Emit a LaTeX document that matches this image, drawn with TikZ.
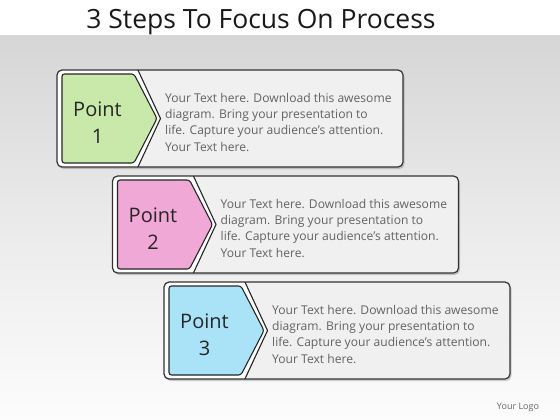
\documentclass[tikz,border=0pt]{standalone}
\usepackage{fontspec}
\setmainfont{Open Sans}
\usetikzlibrary{shadows}
\definecolor{bgtop}{HTML}{D6D6D6}
\definecolor{bgmid}{HTML}{EBEBEB}
\definecolor{bgbot}{HTML}{FCFCFC}
\definecolor{ptgreen}{HTML}{C8E9AA}
\definecolor{ptpink}{HTML}{F0A8D6}
\definecolor{ptblue}{HTML}{AAE3F8}
\definecolor{txtgray}{HTML}{626262}
\definecolor{boxfill}{HTML}{F0F0F0}
\definecolor{boxline}{HTML}{333333}
\tikzset{
  boxframe/.style={draw=boxline, line width=1.2pt, rounded corners=5pt},
  boxshadow/.style={fill=black, opacity=0.18, rounded corners=5pt},
  pentagonshape/.style={draw=black!85, line width=1.1pt, rounded corners=2.5pt},
  dividerline/.style={draw=black!85, line width=1.1pt},
  ptlabel/.style={font=\fontsize{20}{27}\selectfont, text=black!85, align=center, inner sep=0pt},
  bodytext/.style={font=\fontsize{12.1}{16.3}\selectfont, text=txtgray, align=left, anchor=north west, inner sep=0pt},
  titletext/.style={font=\fontsize{26.5}{30}\selectfont, text=black!90, inner sep=0pt},
  logotext/.style={font=\fontsize{9}{10}\selectfont, text=black!60, inner sep=0pt}
}
\begin{document}
\begin{tikzpicture}[x=1pt,y=-1pt]
\useasboundingbox (0,0) rectangle (560,420);
\fill[white] (0,0) rectangle (560,36);
\shade[top color=bgtop, bottom color=bgbot, middle color=bgmid] (0,36) rectangle (560,420);
\node[titletext] (title) at (261,22.5) {3 Steps To Focus On Process};
\foreach \i/\L/\T/\c in {1/57/70/ptgreen, 2/112.5/176/ptpink, 3/164/282/ptblue}{
  % shadow
  \fill[boxshadow] (\L+1.5,\T+2) rectangle (\L+347.5,\T+99);
  % outer box
  \fill[boxfill, rounded corners=5pt] (\L,\T) rectangle (\L+346,\T+97);
  \begin{scope}
    \clip[rounded corners=5pt] (\L,\T) rectangle (\L+346,\T+97);
    \fill[white] (\L,\T) -- (\L+80,\T) -- (\L+103.5,\T+48.5) -- (\L+80,\T+97) -- (\L,\T+97) -- cycle;
    \draw[dividerline] (\L+80,\T-2) -- (\L+103.5,\T+48.5) -- (\L+80,\T+99);
  \end{scope}
  \draw[boxframe] (\L,\T) rectangle (\L+346,\T+97);
  % pentagon
  \filldraw[pentagonshape, fill=\c] (\L+5,\T+4) -- (\L+77,\T+4) -- (\L+100,\T+48.5) -- (\L+77,\T+93) -- (\L+5,\T+93) -- cycle;
  \node[ptlabel] (p\i) at (\L+40.5,\T+52.5) {Point\\\i};
  \node[bodytext] (t\i) at (\L+108,\T+23) {Your Text here. Download this awesome\\diagram. Bring your presentation to\\life. Capture your audience’s attention.\\Your Text here.};
}
\node[logotext] (logo) at (518,407) {Your Logo};
\end{tikzpicture}
\end{document}
